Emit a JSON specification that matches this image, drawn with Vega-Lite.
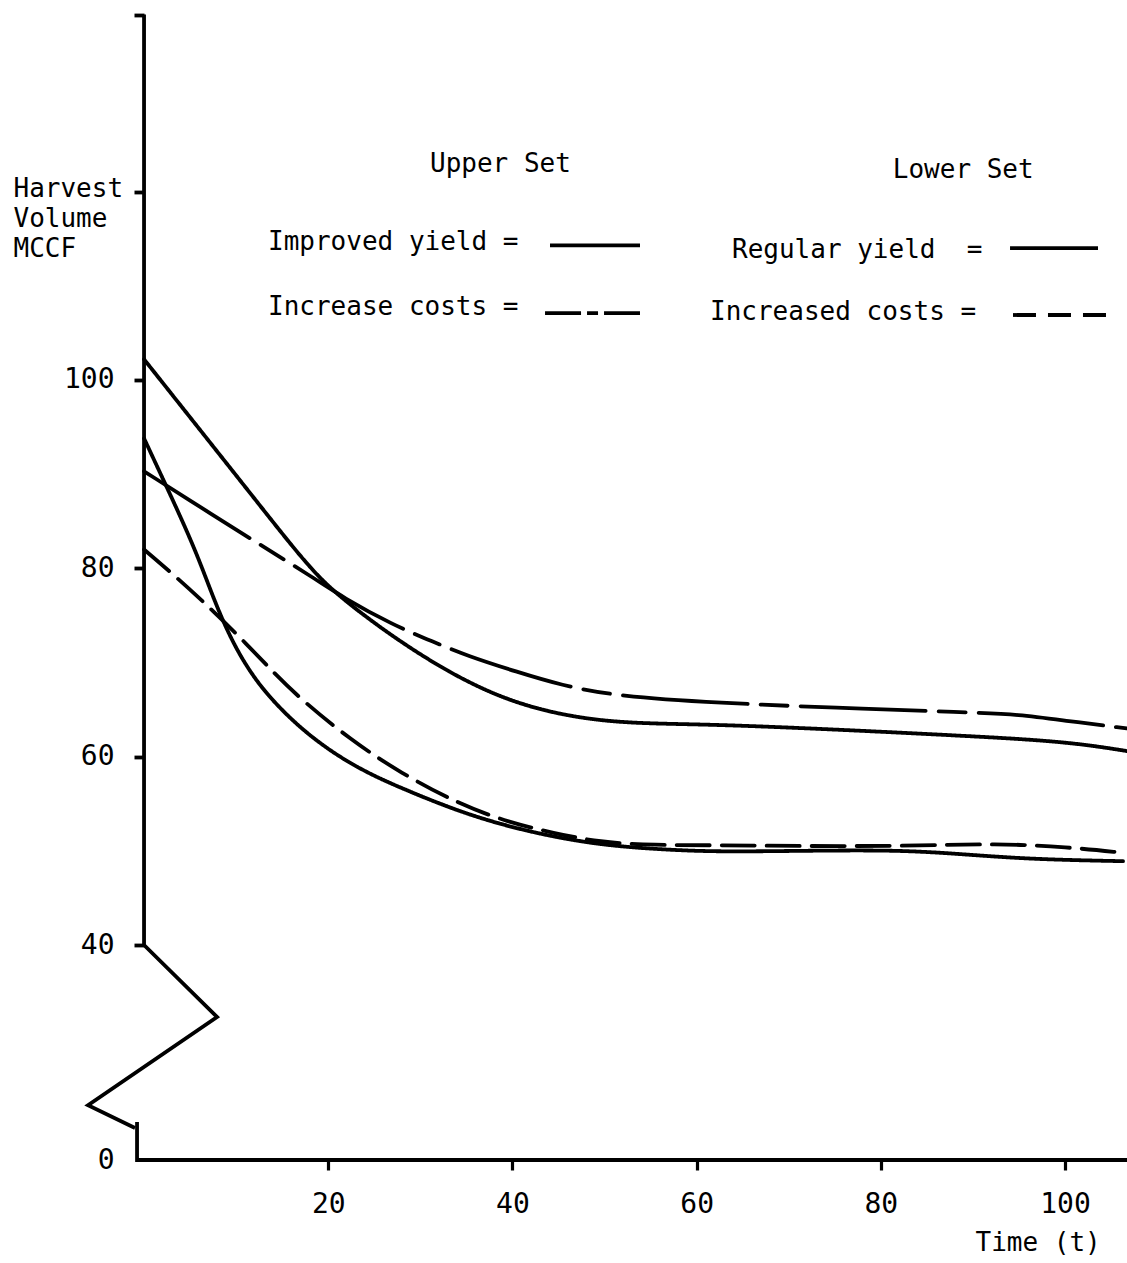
{
  "$schema": "https://vega.github.io/schema/vega-lite/v6.json",
  "width": 1127,
  "height": 1263,
  "autosize": "none",
  "padding": 0,
  "background": "white",
  "config": {
    "view": {"stroke": null},
    "font": "DejaVu Sans Mono",
    "axis": {
      "labelFont": "DejaVu Sans Mono",
      "titleFont": "DejaVu Sans Mono",
      "labelColor": "black",
      "titleColor": "black",
      "tickColor": "black",
      "grid": false,
      "domain": false
    }
  },
  "datasets": {
    "frame": [
      {"part": "y axis with break", "t": 0, "volume": 138.8},
      {"part": "y axis with break", "t": 0, "volume": 40},
      {"part": "y axis with break", "t": 7.93, "volume": 26.6},
      {"part": "y axis with break", "t": -6.08, "volume": 10.2},
      {"part": "y axis with break", "t": -0.98, "volume": 5.95},
      {"part": "x axis", "t": -0.76, "volume": 7.07},
      {"part": "x axis", "t": -0.76, "volume": 0},
      {"part": "x axis", "t": 106.73, "volume": 0}
    ],
    "curves": [
      {"set": "Upper Set", "case": "Improved yield", "t": 0, "volume": 102.2},
      {"set": "Upper Set", "case": "Improved yield", "t": 6, "volume": 94.8},
      {"set": "Upper Set", "case": "Improved yield", "t": 12, "volume": 87.4},
      {"set": "Upper Set", "case": "Improved yield", "t": 17, "volume": 81.2},
      {"set": "Upper Set", "case": "Improved yield", "t": 20, "volume": 78.0},
      {"set": "Upper Set", "case": "Improved yield", "t": 24, "volume": 74.9},
      {"set": "Upper Set", "case": "Improved yield", "t": 28, "volume": 72.1},
      {"set": "Upper Set", "case": "Improved yield", "t": 33, "volume": 69.0},
      {"set": "Upper Set", "case": "Improved yield", "t": 38.6, "volume": 66.3},
      {"set": "Upper Set", "case": "Improved yield", "t": 44, "volume": 64.7},
      {"set": "Upper Set", "case": "Improved yield", "t": 49.5, "volume": 63.8},
      {"set": "Upper Set", "case": "Improved yield", "t": 55, "volume": 63.5},
      {"set": "Upper Set", "case": "Improved yield", "t": 62.5, "volume": 63.4},
      {"set": "Upper Set", "case": "Improved yield", "t": 74.8, "volume": 62.9},
      {"set": "Upper Set", "case": "Improved yield", "t": 89.4, "volume": 62.2},
      {"set": "Upper Set", "case": "Improved yield", "t": 100.2, "volume": 61.6},
      {"set": "Upper Set", "case": "Improved yield", "t": 106.7, "volume": 60.6},

      {"set": "Upper Set", "case": "Increase costs", "t": 0, "volume": 90.3},
      {"set": "Upper Set", "case": "Increase costs", "t": 7.9, "volume": 85.4},
      {"set": "Upper Set", "case": "Increase costs", "t": 11.8, "volume": 83.0},
      {"set": "Upper Set", "case": "Increase costs", "t": 18.4, "volume": 79.0},
      {"set": "Upper Set", "case": "Increase costs", "t": 21.6, "volume": 76.9},
      {"set": "Upper Set", "case": "Increase costs", "t": 27, "volume": 74.0},
      {"set": "Upper Set", "case": "Increase costs", "t": 31.4, "volume": 72.2},
      {"set": "Upper Set", "case": "Increase costs", "t": 35.1, "volume": 70.7},
      {"set": "Upper Set", "case": "Increase costs", "t": 40.5, "volume": 69.0},
      {"set": "Upper Set", "case": "Increase costs", "t": 45.2, "volume": 67.6},
      {"set": "Upper Set", "case": "Increase costs", "t": 51.4, "volume": 66.4},
      {"set": "Upper Set", "case": "Increase costs", "t": 62.5, "volume": 65.7},
      {"set": "Upper Set", "case": "Increase costs", "t": 74.8, "volume": 65.2},
      {"set": "Upper Set", "case": "Increase costs", "t": 89.4, "volume": 64.7},
      {"set": "Upper Set", "case": "Increase costs", "t": 95, "volume": 64.5},
      {"set": "Upper Set", "case": "Increase costs", "t": 100.2, "volume": 63.8},
      {"set": "Upper Set", "case": "Increase costs", "t": 106.7, "volume": 63.0},

      {"set": "Lower Set", "case": "Regular yield", "t": 0, "volume": 93.8},
      {"set": "Lower Set", "case": "Regular yield", "t": 2, "volume": 89.6},
      {"set": "Lower Set", "case": "Regular yield", "t": 4, "volume": 85.4},
      {"set": "Lower Set", "case": "Regular yield", "t": 6, "volume": 80.9},
      {"set": "Lower Set", "case": "Regular yield", "t": 8, "volume": 75.6},
      {"set": "Lower Set", "case": "Regular yield", "t": 10, "volume": 71.4},
      {"set": "Lower Set", "case": "Regular yield", "t": 12, "volume": 68.3},
      {"set": "Lower Set", "case": "Regular yield", "t": 14, "volume": 65.9},
      {"set": "Lower Set", "case": "Regular yield", "t": 17, "volume": 63.0},
      {"set": "Lower Set", "case": "Regular yield", "t": 20.5, "volume": 60.4},
      {"set": "Lower Set", "case": "Regular yield", "t": 24, "volume": 58.4},
      {"set": "Lower Set", "case": "Regular yield", "t": 27.8, "volume": 56.7},
      {"set": "Lower Set", "case": "Regular yield", "t": 35.1, "volume": 53.8},
      {"set": "Lower Set", "case": "Regular yield", "t": 42.2, "volume": 51.9},
      {"set": "Lower Set", "case": "Regular yield", "t": 49.5, "volume": 50.6},
      {"set": "Lower Set", "case": "Regular yield", "t": 56.8, "volume": 50.1},
      {"set": "Lower Set", "case": "Regular yield", "t": 62.5, "volume": 49.9},
      {"set": "Lower Set", "case": "Regular yield", "t": 71.2, "volume": 50.0},
      {"set": "Lower Set", "case": "Regular yield", "t": 82.1, "volume": 50.1},
      {"set": "Lower Set", "case": "Regular yield", "t": 89.4, "volume": 49.6},
      {"set": "Lower Set", "case": "Regular yield", "t": 96.5, "volume": 49.1},
      {"set": "Lower Set", "case": "Regular yield", "t": 106.3, "volume": 48.9},

      {"set": "Lower Set", "case": "Increased costs", "t": 0, "volume": 82.0},
      {"set": "Lower Set", "case": "Increased costs", "t": 3.6, "volume": 79.0},
      {"set": "Lower Set", "case": "Increased costs", "t": 7.7, "volume": 75.3},
      {"set": "Lower Set", "case": "Increased costs", "t": 11.2, "volume": 71.9},
      {"set": "Lower Set", "case": "Increased costs", "t": 14, "volume": 69.0},
      {"set": "Lower Set", "case": "Increased costs", "t": 16.9, "volume": 66.2},
      {"set": "Lower Set", "case": "Increased costs", "t": 22.4, "volume": 61.8},
      {"set": "Lower Set", "case": "Increased costs", "t": 27.8, "volume": 58.3},
      {"set": "Lower Set", "case": "Increased costs", "t": 34.3, "volume": 54.9},
      {"set": "Lower Set", "case": "Increased costs", "t": 39.7, "volume": 53.0},
      {"set": "Lower Set", "case": "Increased costs", "t": 44.4, "volume": 51.9},
      {"set": "Lower Set", "case": "Increased costs", "t": 49.5, "volume": 50.9},
      {"set": "Lower Set", "case": "Increased costs", "t": 55.3, "volume": 50.6},
      {"set": "Lower Set", "case": "Increased costs", "t": 62.5, "volume": 50.6},
      {"set": "Lower Set", "case": "Increased costs", "t": 71.2, "volume": 50.5},
      {"set": "Lower Set", "case": "Increased costs", "t": 82.1, "volume": 50.5},
      {"set": "Lower Set", "case": "Increased costs", "t": 92.9, "volume": 50.8},
      {"set": "Lower Set", "case": "Increased costs", "t": 100.2, "volume": 50.4},
      {"set": "Lower Set", "case": "Increased costs", "t": 106.3, "volume": 49.8}
    ],
    "key": [
      {"case": "Improved yield", "t": 44.08, "volume": 114.3},
      {"case": "Improved yield", "t": 53.85, "volume": 114.3},
      {"case": "Increase costs", "t": 43.54, "volume": 107.1},
      {"case": "Increase costs", "t": 53.85, "volume": 107.1},
      {"case": "Regular yield", "t": 94.03, "volume": 114.0},
      {"case": "Regular yield", "t": 103.58, "volume": 114.0},
      {"case": "Increased costs", "t": 94.35, "volume": 106.9},
      {"case": "Increased costs", "t": 104.56, "volume": 106.9}
    ],
    "labels": [
      {"label": "Upper Set", "t": 31.05, "volume": 122.1},
      {"label": "Lower Set", "t": 81.3, "volume": 121.4},
      {"label": "Improved yield =", "t": 13.46, "volume": 113.8},
      {"label": "Increase costs =", "t": 13.46, "volume": 106.9},
      {"label": "Regular yield \u00a0=", "t": 63.84, "volume": 112.95},
      {"label": "Increased costs =", "t": 61.45, "volume": 106.4}
    ]
  },
  "layer": [
    {
      "data": {"name": "frame"},
      "mark": {"type": "line", "color": "black", "strokeWidth": 3.8, "strokeJoin": "miter", "strokeCap": "butt"},
      "encoding": {
        "x": {
          "field": "t",
          "type": "quantitative",
          "scale": {"domain": [-15.64, 106.73], "nice": false, "zero": false},
          "axis": {
            "orient": "bottom",
            "offset": -103,
            "values": [20, 40, 60, 80, 100],
            "tickSize": 10,
            "tickWidth": 3.2,
            "labelFontSize": 28,
            "labelPadding": 20,
            "title": "Time (t)",
            "titleFontSize": 26,
            "titleFontWeight": "normal",
            "titleAngle": 0,
            "titleAlign": "left",
            "titleBaseline": "alphabetic",
            "titleX": 975,
            "titleY": 90
          }
        },
        "y": {
          "field": "volume",
          "type": "quantitative",
          "scale": {"domain": [0, 40, 140], "range": [1160, 945, 3.3], "nice": false, "zero": false},
          "axis": {
            "orient": "left",
            "offset": -144,
            "values": [0, 40, 60, 80, 100, 120, 138.8],
            "labelExpr": "datum.value > 110 ? '' : datum.label",
            "tickSize": 10,
            "tickWidth": 3.8,
            "tickOpacity": {"condition": {"test": "datum.value === 0", "value": 0}, "value": 1},
            "labelFontSize": 28,
            "labelPadding": 20,
            "title": ["Harvest", "Volume", "MCCF"],
            "titleFontSize": 26,
            "titleFontWeight": "normal",
            "titleLineHeight": 30,
            "titleAngle": 0,
            "titleAlign": "left",
            "titleBaseline": "alphabetic",
            "titleX": -131,
            "titleY": 196
          }
        },
        "detail": {"field": "part"},
        "order": {"value": null}
      }
    },
    {
      "data": {"name": "curves"},
      "mark": {"type": "line", "color": "black", "strokeWidth": 3.8, "interpolate": "basis", "strokeCap": "round"},
      "encoding": {
        "x": {"field": "t", "type": "quantitative"},
        "y": {"field": "volume", "type": "quantitative"},
        "detail": {"field": "case"},
        "strokeDash": {
          "field": "case",
          "type": "nominal",
          "scale": {
            "domain": ["Improved yield", "Increase costs", "Regular yield", "Increased costs"],
            "range": [[1, 0], [125, 13, 27, 13], [1, 0], [33, 12]]
          },
          "legend": null
        }
      }
    },
    {
      "data": {"name": "key"},
      "mark": {"type": "line", "color": "black", "strokeWidth": 3.8},
      "encoding": {
        "x": {"field": "t", "type": "quantitative"},
        "y": {"field": "volume", "type": "quantitative"},
        "detail": {"field": "case"},
        "strokeDash": {
          "field": "case",
          "type": "nominal",
          "scale": {
            "domain": ["Improved yield", "Increase costs", "Regular yield", "Increased costs"],
            "range": [[1, 0], [36, 6, 11, 6], [1, 0], [23, 12]]
          },
          "legend": null
        }
      }
    },
    {
      "data": {"name": "labels"},
      "mark": {"type": "text", "align": "left", "baseline": "alphabetic", "font": "DejaVu Sans Mono", "fontSize": 26, "color": "black"},
      "encoding": {
        "x": {"field": "t", "type": "quantitative"},
        "y": {"field": "volume", "type": "quantitative"},
        "text": {"field": "label"}
      }
    }
  ],
  "resolve": {"scale": {"strokeDash": "independent"}}
}
